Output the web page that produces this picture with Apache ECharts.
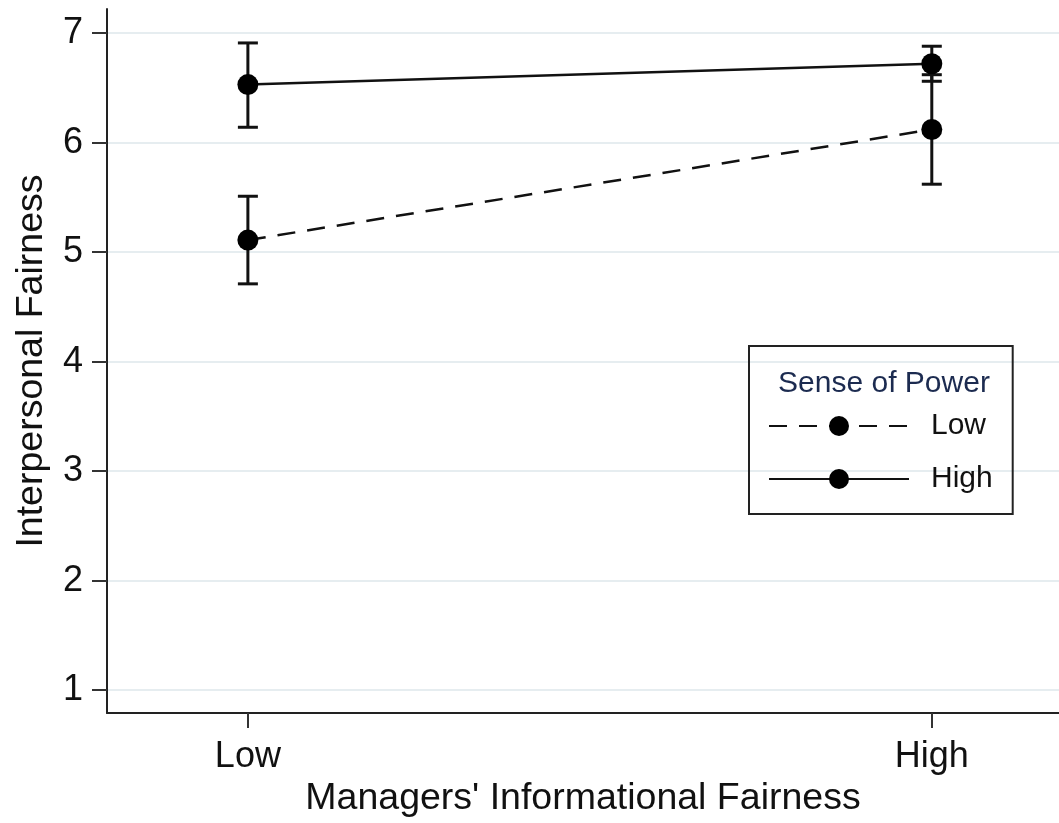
<!DOCTYPE html>
<html>
<head>
<meta charset="utf-8">
<script src="https://cdn.jsdelivr.net/npm/echarts@6/dist/echarts.min.js"></script>
<style>html,body{margin:0;padding:0;background:#fff;}#c{width:1059px;height:823px;}</style>
</head>
<body>
<div id="c"></div>
<script>
// ---- data ----
const categories = ['Low', 'High'];            // Managers' Informational Fairness
const categoryPos = [0, 1];
const yTicks = [1, 2, 3, 4, 5, 6, 7];
const seriesNames = ['Low', 'High'];           // Sense of Power
const lowPowerMean = [5.11, 6.12];
const lowPowerLower = [4.71, 5.62];
const lowPowerUpper = [5.51, 6.62];
const highPowerMean = [6.53, 6.72];
const highPowerLower = [6.14, 6.56];
const highPowerUpper = [6.91, 6.88];

const FONT = '"Liberation Sans", Arial, sans-serif';
const chart = echarts.init(document.getElementById('c'));

function pts(means) { return categoryPos.map((x, i) => [x, means[i]]); }
function bars(lo, hi) { return categoryPos.map((x, i) => [x, lo[i], hi[i]]); }

function errRender(params, api) {
  const x = api.value(0);
  const p1 = api.coord([x, api.value(1)]);
  const p2 = api.coord([x, api.value(2)]);
  const hw = 10;
  const st = { stroke: '#111', lineWidth: 3 };
  return {
    type: 'group',
    children: [
      { type: 'line', shape: { x1: p1[0], y1: p1[1], x2: p2[0], y2: p2[1] }, style: st },
      { type: 'line', shape: { x1: p1[0] - hw, y1: p1[1], x2: p1[0] + hw, y2: p1[1] }, style: st },
      { type: 'line', shape: { x1: p2[0] - hw, y1: p2[1], x2: p2[0] + hw, y2: p2[1] }, style: st }
    ]
  };
}

const option = {
  animation: false,
  backgroundColor: '#fff',
  title: {
    text: 'Sense of Power',
    left: 879, top: 364, textAlign: 'center',
    textStyle: { fontFamily: FONT, fontSize: 30, fontWeight: 'normal', color: '#1c2b50' }
  },
  legend: {
    data: seriesNames,
    orient: 'vertical',
    left: 749, top: 346,
    padding: [65, 20, 20, 19],
    itemGap: 23,
    itemWidth: 140,
    itemHeight: 25,
    borderColor: '#222',
    borderWidth: 2,
    textStyle: { fontFamily: FONT, fontSize: 30, color: '#111', padding: [0, 0, 0, 17] }
  },
  grid: { left: 107, right: 0, top: 9, bottom: 107, containLabel: false },
  xAxis: {
    type: 'value',
    min: -0.206, max: 1.186,
    name: "Managers' Informational Fairness",
    nameLocation: 'middle',
    nameGap: 64,
    nameTextStyle: { fontFamily: FONT, fontSize: 37.5, color: '#111' },
    axisLine: { show: true, onZero: false, lineStyle: { color: '#222', width: 2 } },
    axisTick: { show: true, length: 15, customValues: categoryPos, lineStyle: { color: '#333', width: 2 } },
    axisLabel: {
      customValues: categoryPos, margin: 26,
      formatter: v => categories[categoryPos.indexOf(v)] || '',
      fontFamily: FONT, fontSize: 36, color: '#111'
    },
    splitLine: { show: false }
  },
  yAxis: {
    type: 'value',
    min: 0.79, max: 7.22,
    name: 'Interpersonal Fairness',
    nameLocation: 'middle',
    nameGap: 56,
    nameRotate: 90,
    nameTextStyle: { fontFamily: FONT, fontSize: 37.5, color: '#111' },
    axisLine: { show: true, onZero: false, lineStyle: { color: '#222', width: 2 } },
    axisTick: { show: true, length: 15, customValues: yTicks, lineStyle: { color: '#333', width: 2 } },
    axisLabel: { customValues: yTicks, margin: 24, fontFamily: FONT, fontSize: 36, color: '#111' },
    splitLine: { show: true, lineStyle: { color: '#e6edf0', width: 2 } }
  },
  series: [
    {
      name: 'Low', type: 'line', data: pts(lowPowerMean),
      symbol: 'circle', symbolSize: 21,
      itemStyle: { color: '#000' },
      lineStyle: { color: '#111', width: 2.5, type: [18, 12] },
      z: 3
    },
    {
      name: 'High', type: 'line', data: pts(highPowerMean),
      symbol: 'circle', symbolSize: 21,
      itemStyle: { color: '#000' },
      lineStyle: { color: '#111', width: 2.5, type: 'solid' },
      z: 3
    },
    { type: 'custom', renderItem: errRender, data: bars(lowPowerLower, lowPowerUpper), z: 2 },
    { type: 'custom', renderItem: errRender, data: bars(highPowerLower, highPowerUpper), z: 2 }
  ]
};
chart.setOption(option);
</script>
</body>
</html>
